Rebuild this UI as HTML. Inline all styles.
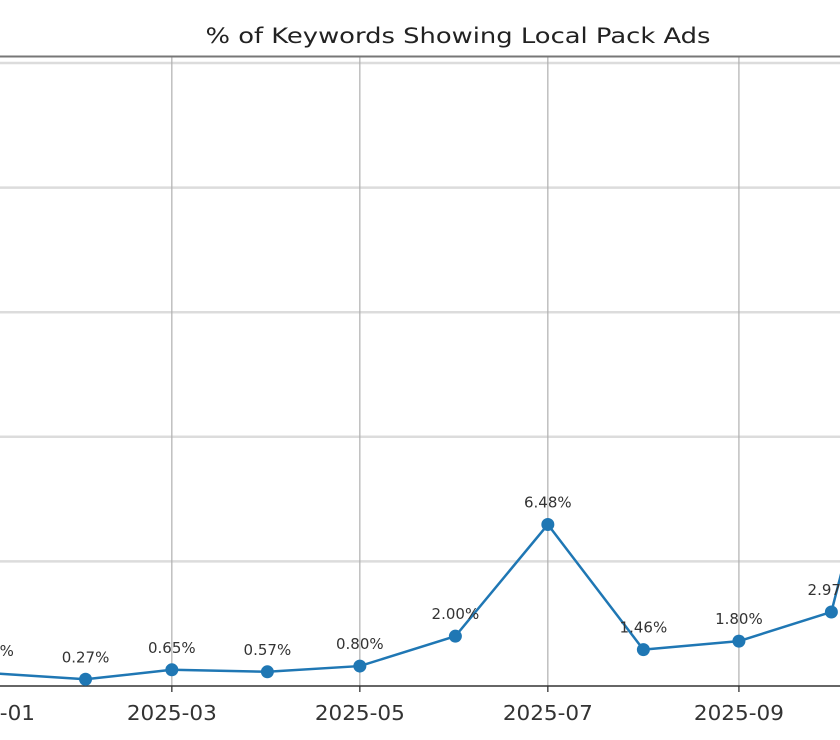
<!DOCTYPE html>
<html><head><meta charset="utf-8"><style>
html,body{margin:0;padding:0;background:#fff}
svg{display:block;font-family:"DejaVu Sans","Liberation Sans",sans-serif}
</style></head><body>
<svg id="chart" width="840" height="740" viewBox="0 0 840 740">
<text x="458" y="43" font-size="21" text-anchor="middle" fill="#222" textLength="505" lengthAdjust="spacingAndGlyphs">% of Keywords Showing Local Pack Ads</text>
<g id="grid"></g>
<g id="axes"></g>
<g id="series"></g>
</svg>
<script>
const months = ["2025-01","2025-02","2025-03","2025-04","2025-05","2025-06","2025-07","2025-08","2025-09","2025-10","2025-11"];
const values = [0.52,0.27,0.65,0.57,0.80,2.00,6.48,1.46,1.80,2.97,18.0];
const valueLabels = ["0.52%","0.27%","0.65%","0.57%","0.80%","2.00%","6.48%","1.46%","1.80%","2.97%","18.00%"];
const xTicks = ["2025-01","2025-03","2025-05","2025-07","2025-09"];
const yTicks = [5,10,15,20,25];

{
const NS="http://www.w3.org/2000/svg";
function mk(tag,attrs,parent){const e=document.createElementNS(NS,tag);for(const k in attrs)e.setAttribute(k,attrs[k]);parent.appendChild(e);return e;}
const day0=Date.UTC(2025,0,1), pxPerDay=188/61;
function xs(m){const [y,mo]=m.split('-').map(Number);return -10+((Date.UTC(y,mo-1,1)-day0)/86400000)*pxPerDay;}
function ys(v){return 686-v*24.92;}

const grid=document.getElementById('grid');
yTicks.forEach(t=>{
  const l=mk('line',{x1:0,x2:840,y1:ys(t),y2:ys(t),stroke:'#dcdcdc','stroke-width':2.5},grid);
  
  
});
xTicks.forEach(t=>{
  const l=mk('line',{x1:xs(t),x2:xs(t),y1:57,y2:686,stroke:'#b0b0b0','stroke-width':1.2},grid);
  
  
});
const axes=document.getElementById('axes');
const topSpine=mk('line',{x1:0,x2:840,y1:56.5,y2:56.5,stroke:'#777','stroke-width':2},axes);


const botSpine=mk('line',{x1:0,x2:840,y1:686,y2:686,stroke:'#333','stroke-width':1.5},axes);


xTicks.forEach(t=>{
  const tk=mk('line',{x1:xs(t),x2:xs(t),y1:686,y2:692,stroke:'#333','stroke-width':1.3},axes);
  
  
  const tx=mk('text',{x:xs(t),y:720,'font-size':20,'text-anchor':'middle',fill:'#333',textLength:90,lengthAdjust:'spacingAndGlyphs'},axes);
  tx.textContent=t;
  
  
});
const ser=document.getElementById('series');
const pts=months.map((m,i)=>xs(m)+','+ys(values[i])).join(' ');
const pl=mk('polyline',{points:pts,fill:'none',stroke:'#1f77b4','stroke-width':2.5,'stroke-linejoin':'round'},ser);


months.forEach((m,i)=>{
  const c=mk('circle',{cx:xs(m),cy:ys(values[i]),r:6.5,fill:'#1f77b4'},ser);
  
  
  const t=mk('text',{x:xs(m),y:ys(values[i])-17,'font-size':15,'text-anchor':'middle',fill:'#333'},ser);
  t.textContent=valueLabels[i];
  
  
});
}
</script>
</body></html>
